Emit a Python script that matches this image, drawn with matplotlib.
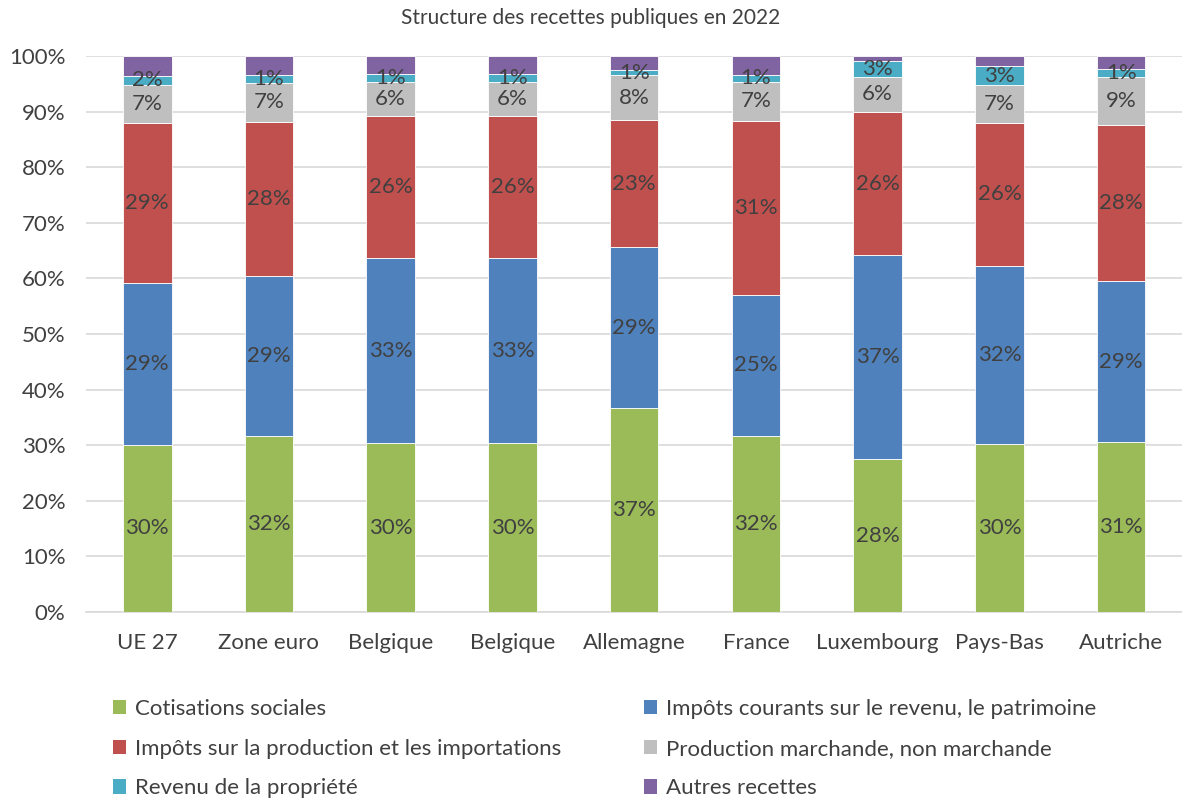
import numpy as np
import matplotlib
matplotlib.use("Agg")
import matplotlib.pyplot as plt
from matplotlib.patches import Patch

plt.rcParams["font.family"] = ["Lato", "DejaVu Sans"]

# --- donnees (parts en %) ---
pays = ["UE 27", "Zone euro", "Belgique", "Belgique", "Allemagne",
        "France", "Luxembourg", "Pays-Bas", "Autriche"]
cotisations = [30.1, 31.7, 30.4, 30.4, 36.7, 31.7, 27.5, 30.2, 30.6]
impots_revenu = [29.0, 28.7, 33.2, 33.2, 28.9, 25.3, 36.7, 32.0, 28.9]
impots_production = [28.8, 27.8, 25.6, 25.6, 22.9, 31.3, 25.7, 25.8, 28.0]
production = [6.9, 6.9, 6.2, 6.2, 8.0, 7.1, 6.4, 6.7, 8.8]
revenu_propriete = [1.6, 1.4, 1.4, 1.4, 0.9, 1.2, 2.7, 3.4, 1.4]
autres = [3.5, 3.5, 3.2, 3.2, 2.6, 3.4, 1.0, 1.9, 2.3]

series = [
    ("Cotisations sociales", cotisations, "#9BBB59", True),
    ("Impôts courants sur le revenu, le patrimoine", impots_revenu, "#4F81BD", True),
    ("Impôts sur la production et les importations", impots_production, "#C0504D", True),
    ("Production marchande, non marchande", production, "#BFBFBF", True),
    ("Revenu de la propriété", revenu_propriete, "#4BACC6", True),
    ("Autres recettes", autres, "#8064A2", False),
]

fig = plt.figure(figsize=(11.82, 7.99), dpi=100)
ax = fig.add_axes([0.073, 0.234, 0.927, 0.696])

x = np.arange(len(pays))
bottom = np.zeros(len(pays))
for name, vals, color, show in series:
    vals = np.array(vals) / 100
    ax.bar(x, vals, 0.4, bottom=bottom, color=color, edgecolor="white",
           linewidth=0.6, zorder=3)
    if show:
        for xi, b, v in zip(x, bottom, vals):
            ax.text(xi, b + v / 2, f"{v * 100:.0f}%", ha="center", va="center",
                    fontsize=16, color="#404040", zorder=4)
    bottom += vals

ax.set_xlim(-0.5, len(pays) - 0.5)
ax.set_ylim(0, 1)
ax.set_yticks(np.arange(0, 1.01, 0.1))
ax.set_yticklabels([f"{int(round(t * 100))}%" for t in np.arange(0, 1.01, 0.1)])
ax.set_xticks(x)
ax.set_xticklabels(pays)
ax.tick_params(axis="both", length=0, labelsize=16, labelcolor="#404040")
ax.tick_params(axis="x", pad=15)
ax.tick_params(axis="y", pad=15)
ax.grid(axis="y", color="#D9D9D9", linewidth=1.2, zorder=0)
for s in ["top", "right", "left"]:
    ax.spines[s].set_visible(False)
ax.spines["bottom"].set_color("#D9D9D9")
ax.spines["bottom"].set_linewidth(1.2)

fig.text(0.5, 0.977, "Structure des recettes publiques en 2022", ha="center",
         va="center", fontsize=15, color="#404040")

# legende en 2 colonnes (remplissage par colonne)
order = [0, 2, 4, 1, 3, 5]
handles = [Patch(facecolor=series[i][2], label=series[i][0]) for i in order]
fig.legend(handles=handles, loc="upper left", bbox_to_anchor=(0.088, 0.136),
           ncol=2, frameon=False, fontsize=16, labelcolor="#404040",
           handlelength=0.6, handleheight=0.6, handletextpad=0.4,
           columnspacing=3.7, labelspacing=0.88, borderaxespad=0)

fig.savefig("out.png", dpi=100)
